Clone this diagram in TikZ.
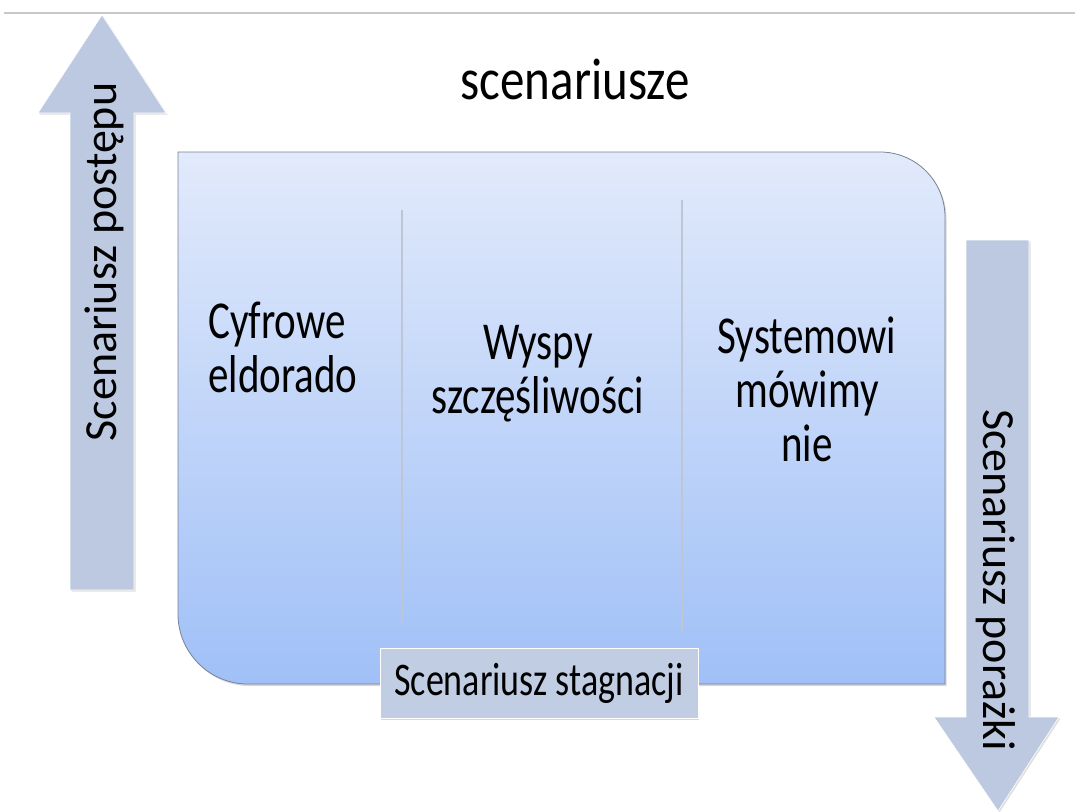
\documentclass[tikz,border=0pt]{standalone}
\usepackage{fontspec}
\setmainfont{Carlito}
\usetikzlibrary{shadows}
\definecolor{arrowfill}{RGB}{188,201,224}
\definecolor{boxtop}{RGB}{226,234,251}
\definecolor{boxbot}{RGB}{160,192,247}
\definecolor{boxedge}{RGB}{120,130,150}
\definecolor{divcol}{RGB}{190,198,214}
\definecolor{labelfill}{RGB}{192,205,227}
\definecolor{topline}{RGB}{200,200,204}
\newcommand{\tall}[1]{\scalebox{1}[1.3]{#1}}
\tikzset{
  bigarrow/.style={fill=arrowfill, draw=white, line width=0.6pt,
    drop shadow={opacity=0.25, shadow xshift=1.5pt, shadow yshift=-1.5pt}},
  maintext/.style={font=\fontsize{41}{54}\selectfont, inner sep=0pt},
  arrowtext/.style={font=\fontsize{46}{50}\selectfont, inner sep=0pt},
  divider/.style={draw=divcol, line width=2pt}
}
\begin{document}
\begin{tikzpicture}[x=1pt,y=-1pt]
\useasboundingbox (0,0) rectangle (1075,811);
\fill[white] (0,0) rectangle (1075,811);
% top line
\coordinate (tl1) at (4,13);
\coordinate (tl2) at (1075,13);
\draw[topline, line width=2pt] (tl1) -- (tl2);
% title
\node[font=\fontsize{49}{54}\selectfont, inner sep=0pt, anchor=base] (title) at (575,99) {\scalebox{1}[1.2]{scenariusze}};
% left arrow (up)
\path[bigarrow] (70,590) -- (70,113) -- (38,113) -- (102,15) -- (166,113) -- (134,113) -- (134,590) -- cycle;
\node[arrowtext, rotate=90] (postep) at (104,262) {Scenariusz postępu};
% right arrow (down)
\path[bigarrow] (966,240) -- (1029,240) -- (1029,717) -- (1059,717) -- (998,811) -- (934,717) -- (966,717) -- cycle;
\node[arrowtext, rotate=-90] (porazka) at (996,580) {Scenariusz porażki};
% main box
\path[top color=boxtop, bottom color=boxbot, draw=boxedge, line width=0.8pt,
  drop shadow={opacity=0.3, shadow xshift=1.5pt, shadow yshift=-2pt}]
  (178,152) -- (880,152) arc[start angle=-90, end angle=0, radius=65] -- (945,684)
  -- (248,684) arc[start angle=90, end angle=180, radius=70] -- cycle;
% dividers
\coordinate (d1a) at (402,210); \coordinate (d1b) at (402,622);
\coordinate (d2a) at (682,200); \coordinate (d2b) at (682,632);
\draw[divider] (d1a) -- (d1b);
\draw[divider] (d2a) -- (d2b);
% texts
\node[maintext, anchor=base west, align=left] (c1) at (208,392) {\tall{Cyfrowe}\\\tall{eldorado}};
\node[maintext, anchor=base, align=center] (c2) at (538,413) {\tall{Wyspy}\\\tall{szczęśliwości}};
\node[maintext, anchor=base, align=center] (c3) at (807,461) {\tall{Systemowi}\\\tall{mówimy}\\\tall{nie}};
% label
\node[fill=labelfill, draw=white, line width=0.8pt, minimum width=318pt, minimum height=70pt,
  drop shadow={opacity=0.3, shadow xshift=1pt, shadow yshift=-2pt},
  font=\fontsize{36}{40}\selectfont, inner sep=0pt] (stag) at (539,683) {\scalebox{1}[1.3]{Scenariusz stagnacji}};
\end{tikzpicture}
\end{document}
